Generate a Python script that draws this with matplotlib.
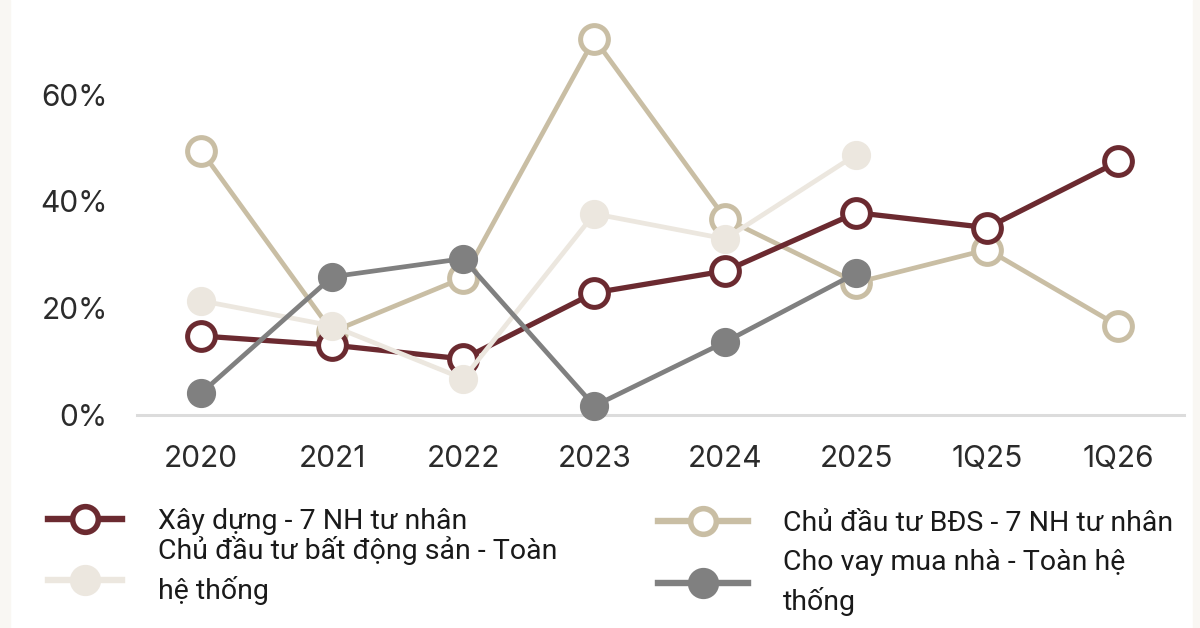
import numpy as np
import matplotlib.pyplot as plt
from matplotlib.lines import Line2D
from matplotlib.patches import Rectangle
from matplotlib.legend_handler import HandlerLine2D

# du lieu (%)
periods = ["2020", "2021", "2022", "2023", "2024", "2025", "1Q25", "1Q26"]
xay_dung_7nh = [14.8, 13.1, 10.5, 22.9, 27.0, 37.9, 35.1, 47.5]
bds_7nh = [49.5, 15.6, 25.7, 70.5, 36.8, 24.8, 31.0, 16.7]
bds_toan_he_thong = [21.4, 16.7, 6.8, 37.7, 33.0, 48.8]
vay_mua_nha = [4.1, 25.9, 29.3, 1.7, 13.7, 26.6]

lbl_xd = "Xây dựng - 7 NH tư nhân"
lbl_bds_th = "Chủ đầu tư bất động sản - Toàn\nhệ thống"
lbl_bds_7 = "Chủ đầu tư BĐS - 7 NH tư nhân"
lbl_vay = "Cho vay mua nhà - Toàn hệ\nthống"

c_red = "#6b2a30"
c_tan = "#c9bea4"
c_light = "#ece7df"
c_gray = "#808080"

plt.rcParams['font.family'] = ['Roboto', 'DejaVu Sans']


class ShiftedLine(HandlerLine2D):
    # doi handle xuong mot chut
    def __init__(self, dy, **kw):
        super().__init__(**kw)
        self.dy = dy

    def create_artists(self, legend, orig_handle, xdescent, ydescent, width, height, fontsize, trans):
        arts = super().create_artists(legend, orig_handle, xdescent, ydescent, width, height, fontsize, trans)
        for a in arts:
            a.set_ydata(np.asarray(a.get_ydata()) - self.dy)
        return arts


fig = plt.figure(figsize=(12, 6.28), dpi=100)
fig.patch.set_facecolor("white")
fig.patches.append(Rectangle((0, 0), 10 / 1200, 1, transform=fig.transFigure, color="#f9f7f3", zorder=0))
fig.patches.append(Rectangle((1193 / 1200, 0), 7 / 1200, 1, transform=fig.transFigure, color="#f9f7f3", zorder=0))

ax = fig.add_axes([137 / 1200, (628 - 415) / 628, (1184 - 137) / 1200, (415 + 12) / 628])
x_all = list(range(len(periods)))
x_6 = x_all[:len(vay_mua_nha)]

ms = 20
mew = 3.6
ax.plot(x_all, bds_7nh, color=c_tan, lw=3.4, marker="o", ms=ms, mfc="white", mec=c_tan, mew=mew, clip_on=False, zorder=2)
ax.plot(x_all, xay_dung_7nh, color=c_red, lw=3.8, marker="o", ms=ms, mfc="white", mec=c_red, mew=mew, clip_on=False, zorder=3)
ax.plot(x_6, bds_toan_he_thong, color=c_light, lw=3.4, marker="o", ms=ms, mfc=c_light, mec=c_light, clip_on=False, zorder=4)
ax.plot(x_6, vay_mua_nha, color=c_gray, lw=3.4, marker="o", ms=ms, mfc=c_gray, mec=c_gray, clip_on=False, zorder=5)

ax.set_xlim(-0.49, 7.5)
ax.set_ylim(0, 80)
ax.set_xticks(x_all)
ax.set_xticklabels(periods)
ax.set_yticks([0, 20, 40, 60, 80])
ax.set_yticklabels(["0%", "20%", "40%", "60%", "80%"])
for s in ["top", "right", "left"]:
    ax.spines[s].set_visible(False)
ax.spines["bottom"].set_color("#dcdcdc")
ax.spines["bottom"].set_linewidth(2.2)
ax.tick_params(axis="both", length=0, labelsize=21.5, labelcolor="#2b2b2b")
ax.tick_params(axis="x", pad=21.5)
ax.tick_params(axis="y", pad=21)
for t in ax.get_xticklabels() + ax.get_yticklabels():
    t.set_family(['Inter', 'DejaVu Sans'])

def handle(color, filled):
    return Line2D([0], [0], color=color, lw=4.6, marker="o", ms=18.5,
                  mfc=color if filled else "white", mec=color, mew=4.0)

h_red = handle(c_red, False)
h_light = handle(c_light, True)
h_tan = handle(c_tan, False)
h_gray = handle(c_gray, True)

leg_kw = dict(frameon=False, fontsize=20.5, handletextpad=1.25,
              borderpad=0, borderaxespad=0, loc="upper left")
leg1 = fig.legend([h_red, h_light], [lbl_xd, lbl_bds_th],
                  bbox_to_anchor=(48 / 1200, 1 - 508 / 628), handlelength=2.6,
                  labelspacing=0.02, handler_map={h_light: ShiftedLine(7)}, **leg_kw)
leg2 = fig.legend([h_tan, h_gray], [lbl_bds_7, lbl_vay],
                  bbox_to_anchor=(658 / 1200, 1 - 510 / 628), handlelength=3.15,
                  labelspacing=0.42, **leg_kw)
for lg in (leg1, leg2):
    for t in lg.get_texts():
        t.set_color("#1a1a1a")
        t.set_linespacing(1.48)

plt.savefig("out.png", dpi=100)
